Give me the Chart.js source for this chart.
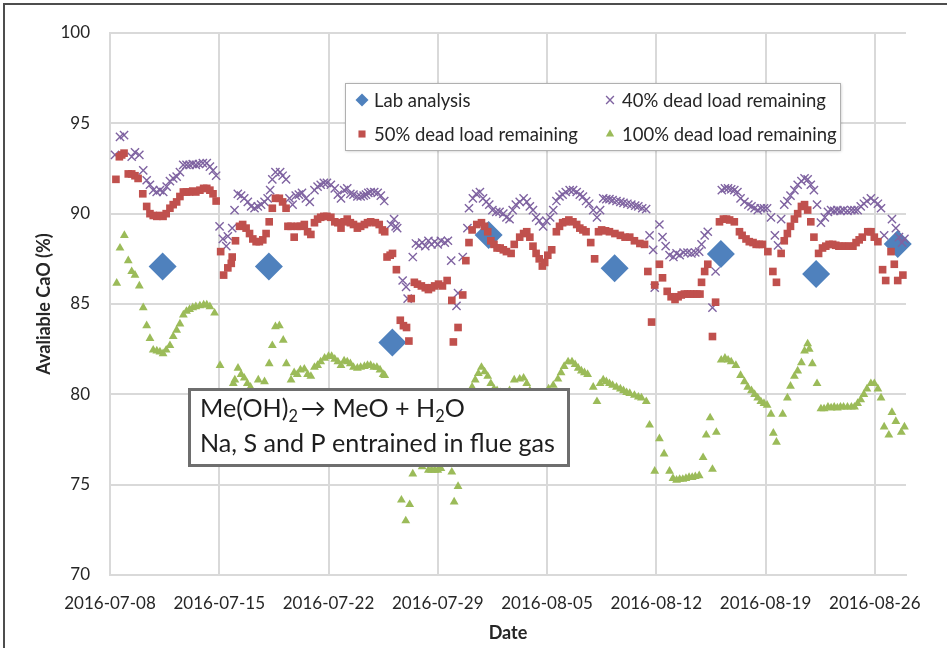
<!DOCTYPE html>
<html>
<head>
<meta charset="utf-8">
<script src="https://cdn.jsdelivr.net/npm/chart.js@4.4.1/dist/chart.umd.min.js"></script>
<style>
html,body{margin:0;padding:0;background:#fff;}
#wrap{position:relative;width:947px;height:648px;}
canvas{display:block;}
</style>
</head>
<body>
<div id="wrap"><canvas id="c" width="947" height="648"></canvas></div>
<script>
// ---- DATA (x = days after 2016-07-08, y = available CaO %) ----
const tickDays = [0, 7, 14, 21, 28, 35, 42, 49];
const tickLabels = ['2016-07-08','2016-07-15','2016-07-22','2016-07-29','2016-08-05','2016-08-12','2016-08-19','2016-08-26'];
const yTicks = [70, 75, 80, 85, 90, 95, 100];

const seriesNames = ['Lab analysis', '40% dead load remaining', '50% dead load remaining', '100% dead load remaining'];

const ptsLab = [[3.37,87.07],[10.18,87.07],[18.09,82.87],[24.26,88.82],[32.33,86.98],[39.14,87.77],[45.24,86.66],[50.47,88.32]];

const pts40 = [[0.32,93.25],[0.64,94.25],[0.9,94.35],[1.39,93.15],[1.6,93.4],[1.88,93.25],[2.13,92.4],[2.35,91.85],[2.56,91.6],[2.77,91.3],[2.99,91.2],[3.2,91.3],[3.41,91.2],[3.63,91.5],[3.84,91.8],[4.05,91.95],[4.27,92.05],[4.48,92.3],[4.69,92.7],[4.9,92.7],[5.1,92.7],[5.3,92.75],[5.5,92.7],[5.7,92.75],[5.95,92.8],[6.2,92.8],[6.4,92.6],[6.6,92.4],[6.8,92.1],
[7.02,89.3],[7.23,88.6],[7.45,88.2],[7.55,88.75],[7.83,89.2],[7.98,90.2],[8.19,91.1],[8.4,91.0],[8.6,90.85],[8.83,90.65],[9.04,90.4],[9.26,90.3],[9.47,90.4],[9.68,90.5],[9.9,90.65],[10.1,90.85],[10.26,91.3],[10.4,91.9],[10.6,92.3],[10.9,92.3],[11.06,92.1],[11.28,91.9],[11.5,90.85],[11.7,90.5],[11.9,91.0],[12.1,91.05],[12.3,91.15],[12.55,90.85],[12.8,90.65],[13.1,91.3],[13.3,91.5],[13.5,91.6],[13.7,91.7],[13.9,91.7],[14.15,91.6],[14.4,91.4],[14.6,91.05],[14.8,90.85],[15.0,91.3],[15.2,91.4],[15.4,91.1],[15.6,91.05],[15.85,90.95],[16.06,90.95],[16.25,91.0],[16.4,91.05],[16.55,91.15],[16.7,91.2],[16.93,91.2],[17.15,91.15],[17.35,91.0],[17.57,90.7],
[18.0,89.4],[18.2,89.7],[18.3,89.3],[18.4,89.2],[18.75,86.3],[18.97,85.95],[19.07,85.3],[19.4,87.6],[19.6,88.35],[19.8,88.25],[20.0,88.4],[20.2,88.2],[20.4,88.5],[20.6,88.3],[20.8,88.45],[21.0,88.3],[21.2,88.5],[21.45,88.4],[21.65,88.5],[21.86,87.4],[22.2,84.9],[22.3,85.6],[22.6,87.6],[22.9,89.2],[23.0,90.3],[23.25,90.85],[23.46,91.1],[23.7,91.2],[23.9,90.85],[24.1,90.65],[24.3,90.5],[24.5,90.2],[24.75,90.1],[24.96,90.1],[25.2,90.0],[25.4,89.8],[25.6,89.7],[25.8,90.2],[26.0,90.5],[26.25,90.65],[26.5,90.85],[26.7,90.65],[26.9,90.4],[27.1,90.2],[27.3,89.8],[27.5,89.6],[27.75,89.3],[27.96,89.6],[28.2,89.8],[28.4,90.2],[28.6,90.7],[28.8,90.95],[29.0,91.05],[29.2,91.2],[29.45,91.3],[29.67,91.3],[29.9,91.2],[30.1,91.05],[30.3,90.95],[30.5,90.7],[30.7,90.55],[30.96,90.2],[31.2,89.8],[31.4,90.2],[31.6,90.85],[31.8,90.8],[32.0,90.8],[32.2,90.75],[32.45,90.7],[32.7,90.65],[32.9,90.6],[33.15,90.55],[33.4,90.5],[33.65,90.45],[33.85,90.4],[34.1,90.3],[34.35,90.25],[34.57,88.8],[34.8,88.0],[34.9,85.9],[35.2,89.4],[35.4,88.7],[35.6,88.2],[35.85,87.7],[36.1,87.6],[36.3,87.8],[36.5,87.7],[36.75,87.85],[37.0,87.85],[37.25,87.8],[37.5,87.85],[37.75,87.9],[37.9,88.3],[38.1,88.8],[38.3,89.0],[38.6,84.8],[38.8,86.8],[39.2,91.3],[39.4,91.4],[39.6,91.4],[39.8,91.35],[40.0,91.3],[40.2,91.2],[40.4,90.85],[40.65,90.65],[40.9,90.5],[41.1,90.4],[41.3,90.3],[41.5,90.2],[41.7,90.3],[41.9,90.3],[42.1,90.3],[42.35,89.8],[42.6,88.8],[42.8,88.25],[43.0,89.7],[43.2,90.5],[43.4,90.7],[43.6,91.0],[43.85,91.3],[44.06,91.6],[44.3,91.8],[44.5,91.95],[44.7,91.9],[44.9,91.6],[45.1,91.3],[45.3,90.5],[45.55,89.5],[45.8,89.8],[46.0,90.1],[46.2,90.2],[46.4,90.15],[46.6,90.2],[46.8,90.15],[47.0,90.2],[47.25,90.15],[47.5,90.2],[47.7,90.2],[47.9,90.2],[48.1,90.4],[48.3,90.55],[48.5,90.7],[48.75,90.85],[48.97,90.7],[49.2,90.55],[49.4,90.3],[49.6,88.8],[50.1,89.7],[50.35,89.2],[50.55,88.7],[50.75,88.4],[50.9,88.6]];

const pts50 = [[0.38,91.9],[0.6,93.15],[0.75,93.25],[0.9,93.35],[1.17,92.2],[1.39,92.2],[1.6,92.1],[1.8,91.95],[2.1,91.1],[2.35,90.4],[2.56,90.0],[2.77,89.9],[3.0,89.85],[3.2,89.9],[3.4,89.85],[3.6,90.0],[3.84,90.3],[4.05,90.5],[4.27,90.65],[4.48,90.95],[4.7,91.2],[4.9,91.2],[5.1,91.2],[5.3,91.25],[5.5,91.2],[5.76,91.3],[6.0,91.4],[6.2,91.4],[6.4,91.3],[6.6,91.1],[6.8,90.7],
[7.09,87.9],[7.28,86.6],[7.55,87.0],[7.77,87.25],[7.83,87.6],[8.04,88.5],[8.3,89.3],[8.5,89.4],[8.72,89.2],[8.94,88.9],[9.15,88.6],[9.36,88.45],[9.57,88.45],[9.79,88.55],[10.0,88.9],[10.2,89.55],[10.4,90.3],[10.6,90.85],[10.85,90.85],[11.06,90.65],[11.28,90.3],[11.4,89.3],[11.6,89.3],[11.8,88.7],[12.0,89.3],[12.2,89.3],[12.45,89.4],[12.66,89.0],[12.87,88.85],[13.1,89.5],[13.3,89.7],[13.5,89.8],[13.7,89.85],[13.9,89.85],[14.15,89.8],[14.4,89.55],[14.6,89.5],[14.8,89.2],[15.0,89.55],[15.2,89.7],[15.4,89.5],[15.6,89.4],[15.85,89.2],[16.06,89.3],[16.3,89.4],[16.5,89.5],[16.7,89.55],[17.0,89.5],[17.25,89.4],[17.45,89.1],[17.6,89.0],
[17.75,87.6],[17.95,87.7],[18.1,87.8],[18.35,86.9],[18.6,84.1],[18.8,83.8],[19.0,83.7],[19.15,82.95],[19.3,85.3],[19.5,86.2],[19.7,86.1],[19.95,86.0],[20.2,85.9],[20.4,85.8],[20.6,85.9],[20.8,86.0],[21.05,86.1],[21.3,86.0],[21.6,86.3],[21.9,85.2],[22.0,82.9],[22.3,83.7],[22.6,85.5],[22.8,87.4],[23.0,88.4],[23.2,89.1],[23.5,89.4],[23.8,89.5],[24.0,89.3],[24.2,89.0],[24.4,88.5],[24.6,88.3],[24.8,88.1],[25.0,88.1],[25.2,88.0],[25.4,87.9],[25.7,87.8],[25.9,88.3],[26.25,88.7],[26.5,88.9],[26.7,89.0],[26.9,88.7],[27.1,88.2],[27.3,87.8],[27.5,87.5],[27.7,87.1],[27.85,87.3],[28.05,87.7],[28.3,88.0],[28.6,89.0],[28.8,89.3],[29.0,89.5],[29.2,89.55],[29.4,89.65],[29.66,89.55],[29.9,89.4],[30.1,89.2],[30.3,89.1],[30.5,89.0],[30.8,88.4],[31.05,87.5],[31.3,89.0],[31.5,89.1],[31.75,89.05],[32.0,89.0],[32.35,88.9],[32.7,88.8],[33.0,88.7],[33.3,88.7],[33.6,88.5],[33.95,88.35],[34.25,88.3],[34.46,86.8],[34.7,84.0],[34.9,86.05],[35.2,87.2],[35.4,86.45],[35.7,85.7],[35.95,85.4],[36.2,85.25],[36.4,85.4],[36.6,85.5],[36.8,85.55],[37.0,85.55],[37.2,85.55],[37.4,85.55],[37.6,85.55],[37.8,85.55],[37.9,86.2],[38.1,86.8],[38.3,87.2],[38.6,83.2],[38.8,85.1],[39.05,89.55],[39.3,89.7],[39.5,89.7],[39.7,89.65],[40.0,89.55],[40.33,89.0],[40.5,88.8],[40.75,88.6],[40.96,88.45],[41.2,88.4],[41.4,88.3],[41.6,88.3],[41.8,88.3],[42.15,87.9],[42.47,86.8],[42.7,86.2],[43.0,87.8],[43.2,88.5],[43.4,88.9],[43.6,89.3],[43.85,89.7],[44.06,90.0],[44.3,90.4],[44.5,90.5],[44.7,90.2],[44.9,89.55],[45.1,88.7],[45.4,87.8],[45.65,88.1],[45.86,88.2],[46.07,88.3],[46.3,88.3],[46.5,88.25],[46.7,88.2],[46.9,88.2],[47.1,88.2],[47.35,88.2],[47.6,88.2],[47.8,88.4],[48.0,88.55],[48.2,88.7],[48.55,89.0],[48.76,89.0],[48.97,88.7],[49.2,88.45],[49.5,86.9],[49.7,86.3],[50.04,87.9],[50.25,87.2],[50.47,86.3],[50.8,86.6]];

const pts100 = [[0.43,86.15],[0.64,88.1],[0.92,88.8],[1.17,87.4],[1.39,86.8],[1.6,86.6],[1.88,86.0],[2.13,84.8],[2.35,83.8],[2.56,83.1],[2.77,82.45],[3.0,82.4],[3.2,82.35],[3.4,82.25],[3.6,82.45],[3.84,82.7],[4.05,83.2],[4.27,83.55],[4.48,83.9],[4.7,84.4],[4.9,84.6],[5.1,84.7],[5.3,84.8],[5.5,84.85],[5.76,84.9],[6.0,84.95],[6.2,84.95],[6.4,84.85],[6.7,84.5],
[7.05,81.6],[7.9,80.6],[8.0,80.8],[8.2,81.45],[8.4,81.1],[8.6,80.9],[8.8,80.6],[9.0,80.4],[9.5,80.8],[9.9,80.7],[10.2,81.7],[10.4,82.7],[10.6,83.75],[10.85,83.8],[11.1,83.0],[11.3,81.7],[11.6,80.8],[11.8,81.2],[12.0,81.1],[12.2,81.35],[12.45,81.4],[12.66,81.1],[12.87,81.0],[13.1,81.5],[13.3,81.6],[13.5,81.8],[13.75,82.0],[14.0,82.1],[14.2,82.1],[14.4,81.95],[14.6,81.8],[14.8,81.6],[15.0,81.85],[15.2,81.8],[15.4,81.7],[15.6,81.5],[15.85,81.45],[16.06,81.5],[16.3,81.55],[16.5,81.6],[16.7,81.6],[16.9,81.5],[17.1,81.5],[17.3,81.35],[17.5,81.1],[17.6,81.05],
[17.9,79.6],[18.2,77.0],[18.67,74.15],[18.95,73.0],[19.2,73.9],[19.4,75.6],[19.7,76.3],[20.0,76.0],[20.4,75.8],[20.6,75.8],[20.8,75.8],[21.0,75.8],[21.2,75.9],[21.5,76.3],[21.9,75.7],[22.05,74.05],[22.3,74.9],[22.6,77.0],[22.9,79.5],[23.2,80.4],[23.4,80.8],[23.6,81.15],[23.8,81.5],[24.0,81.25],[24.2,81.0],[24.4,80.6],[24.6,80.3],[24.8,80.2],[25.0,80.1],[25.3,80.0],[25.6,80.2],[25.9,80.8],[26.25,80.85],[26.5,80.9],[26.7,80.6],[26.9,80.2],[27.2,79.8],[27.5,79.6],[27.8,79.9],[28.1,80.3],[28.4,80.5],[28.7,80.85],[28.9,81.2],[29.1,81.55],[29.35,81.8],[29.6,81.8],[29.8,81.65],[30.0,81.45],[30.2,81.3],[30.4,81.2],[30.6,81.1],[30.96,80.4],[31.2,79.6],[31.4,80.6],[31.6,80.8],[31.8,80.7],[32.0,80.6],[32.2,80.5],[32.45,80.4],[32.7,80.3],[32.9,80.2],[33.1,80.1],[33.3,80.05],[33.6,79.95],[33.85,79.85],[34.05,79.8],[34.36,79.6],[34.57,78.3],[34.9,75.75],[35.2,77.55],[35.5,76.7],[35.85,75.75],[36.07,75.35],[36.3,75.25],[36.5,75.3],[36.7,75.3],[36.9,75.35],[37.1,75.4],[37.3,75.4],[37.5,75.45],[37.75,75.5],[38.0,76.5],[38.2,77.75],[38.45,78.7],[38.6,75.85],[38.85,77.9],[39.16,81.9],[39.4,82.0],[39.6,81.9],[39.8,81.8],[40.1,81.6],[40.4,81.05],[40.65,80.7],[40.86,80.4],[41.1,80.2],[41.3,80.0],[41.5,79.8],[41.7,79.6],[41.9,79.5],[42.1,79.4],[42.35,78.9],[42.5,77.85],[42.7,77.35],[43.1,78.9],[43.4,79.8],[43.6,80.45],[43.85,81.0],[44.06,81.3],[44.3,81.75],[44.5,82.4],[44.7,82.8],[44.8,82.5],[45.0,81.7],[45.3,80.6],[45.55,79.2],[45.75,79.2],[46.0,79.3],[46.2,79.25],[46.4,79.3],[46.6,79.25],[46.8,79.3],[47.0,79.3],[47.25,79.3],[47.5,79.3],[47.7,79.3],[47.9,79.5],[48.1,79.7],[48.3,80.0],[48.5,80.3],[48.75,80.6],[48.97,80.6],[49.2,80.3],[49.4,79.8],[49.6,78.2],[49.9,77.75],[50.1,79.0],[50.35,78.5],[50.7,77.9],[50.9,78.2]];

const noteLine1 = ['Me(OH)', '2', '\u2192 MeO + H', '2', 'O'];
const noteLine2 = 'Na, S and P entrained in flue gas';

// ---- STYLES ----
const FONT = 'Lato';
const TXT = '#262626';
const GRID = '#d9d9d9';
const styles = [
  {pointStyle:'rectRot', radius:14, bg:'#4f81bd', border:'#4f81bd', bw:0, lg:{radius:6.5}},
  {pointStyle:'crossRot', radius:5.8, bg:'#7f63a1', border:'#7f63a1', bw:1.4, lg:{radius:5.5}},
  {pointStyle:'rect', radius:5.4, bg:'#c0504d', border:'#c0504d', bw:0, lg:{radius:5}},
  {pointStyle:'triangle', radius:5.1, bg:'#9bbb59', border:'#9bbb59', bw:0, lg:{radius:4.8}}
];
const allPts = [ptsLab, pts40, pts50, pts100];
const drawOrder = [4, 3, 2, 1];

const toXY = arr => arr.map(p => ({x: p[0], y: p[1]}));

const datasets = allPts.map((pts, i) => ({
  label: seriesNames[i],
  data: toXY(pts),
  pointStyle: styles[i].pointStyle,
  pointRadius: styles[i].radius,
  pointHoverRadius: styles[i].radius,
  pointBackgroundColor: styles[i].bg,
  pointBorderColor: styles[i].border,
  pointBorderWidth: styles[i].bw,
  showLine: false,
  order: drawOrder[i],
  clip: false
}));

function fitSize(ctx, text, target, weight) {
  ctx.font = (weight ? weight + ' ' : '') + '100px ' + FONT;
  return 100 * target / ctx.measureText(text).width;
}

const overlay = {
  id: 'overlay',
  afterDraw(chart) {
    const ctx = chart.ctx;
    const H = Chart.helpers;
    ctx.save();

    // ---- legend box ----
    ctx.save();
    ctx.shadowColor = 'rgba(0,0,0,0.25)';
    ctx.shadowBlur = 3; ctx.shadowOffsetX = 1; ctx.shadowOffsetY = 1;
    ctx.fillStyle = '#fff';
    ctx.fillRect(345, 83, 495, 67);
    ctx.restore();
    ctx.strokeStyle = '#b0b0b0'; ctx.lineWidth = 1;
    ctx.strokeRect(345.5, 83.5, 495, 67);

    const ls = fitSize(ctx, seriesNames[2], 204);
    ctx.font = ls + 'px ' + FONT;
    ctx.textBaseline = 'middle';
    ctx.textAlign = 'left';
    const slots = [
      {mx:362, tx:374, y:100},
      {mx:610, tx:622, y:100},
      {mx:362, tx:374, y:134},
      {mx:610, tx:622, y:134}
    ];
    slots.forEach((s, i) => {
      const st = styles[i];
      ctx.fillStyle = st.bg; ctx.strokeStyle = st.border;
      ctx.lineWidth = st.bw;
      H.drawPoint(ctx, {pointStyle: st.pointStyle, radius: st.lg.radius, rotation: 0, borderWidth: st.bw}, s.mx, s.y);
      ctx.fillStyle = TXT;
      ctx.fillText(seriesNames[i], s.tx, s.y + 1);
    });

    // ---- annotation box ----
    ctx.fillStyle = '#fff';
    ctx.fillRect(188, 388, 382, 79);
    ctx.strokeStyle = '#6e6e6e'; ctx.lineWidth = 3;
    ctx.strokeRect(189.5, 389.5, 379, 76);

    const ns = fitSize(ctx, noteLine2, 355);
    ctx.fillStyle = '#1e1e1e';
    ctx.textBaseline = 'alphabetic';
    let x = 200;
    const y1 = 417;
    noteLine1.forEach((t, i) => {
      const sub = (i === 1 || i === 3);
      ctx.font = (sub ? ns * 0.65 : ns) + 'px ' + FONT;
      const yy = sub ? y1 + ns * 0.2 : y1;
      ctx.fillText(t, x, yy);
      x += ctx.measureText(t).width + (i === 1 ? 3 : 0);
    });
    ctx.font = ns + 'px ' + FONT;
    ctx.fillText(noteLine2, 200, 452);

    // ---- outer frame ----
    ctx.strokeStyle = '#4d4d4d'; ctx.lineWidth = 2;
    ctx.beginPath();
    ctx.moveTo(4, 648); ctx.lineTo(4, 4); ctx.lineTo(947, 4);
    ctx.stroke();

    ctx.restore();
  }
};

Chart.defaults.font.family = FONT;
Chart.defaults.color = TXT;

new Chart(document.getElementById('c'), {
  type: 'scatter',
  data: { datasets },
  options: {
    responsive: false,
    animation: false,
    devicePixelRatio: 1,
    layout: { padding: { left: 0, right: 41, top: 33, bottom: 0 } },
    plugins: { legend: { display: false }, tooltip: { enabled: false } },
    scales: {
      x: {
        type: 'linear', min: 0, max: 51,
        afterBuildTicks: s => { s.ticks = tickDays.map(v => ({ value: v })); },
        afterFit: s => { s.height = 73; },
        grid: { color: GRID, lineWidth: 2, drawTicks: false },
        border: { color: GRID, width: 2 },
        ticks: {
          padding: 18, color: TXT, autoSkip: false, maxRotation: 0,
          font: { family: FONT, size: 17 },
          callback: v => tickLabels[tickDays.indexOf(v)]
        },
        title: { display: true, text: 'Date', color: TXT, font: { family: FONT, size: 18, weight: 'bold' }, padding: { top: 0, bottom: 4 } }
      },
      y: {
        min: 70, max: 100,
        afterBuildTicks: s => { s.ticks = yTicks.map(v => ({ value: v })); },
        afterFit: s => { s.width = 110; },
        grid: { color: GRID, lineWidth: 2, drawTicks: false },
        border: { color: GRID, width: 2 },
        ticks: { padding: 20, color: TXT, font: { family: FONT, size: 17 } },
        title: { display: true, text: 'Avaliable CaO (%)', color: TXT, font: { family: FONT, size: 18, weight: 'bold' }, padding: { top: 33, bottom: 0 } }
      }
    }
  },
  plugins: [overlay]
});
</script>
</body>
</html>
